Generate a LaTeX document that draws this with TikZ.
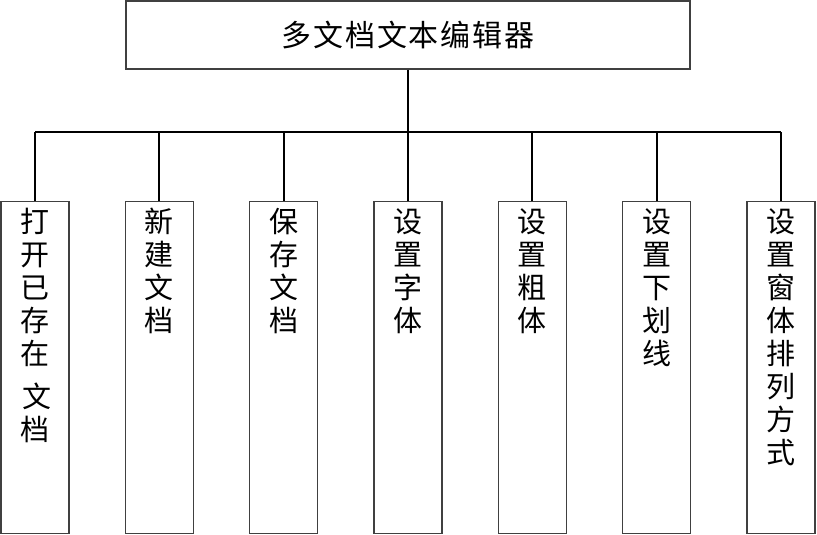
\documentclass[tikz,border=0pt]{standalone}
\usepackage{fontspec}
\setmainfont{Noto Sans CJK SC}
\begin{document}
\begin{tikzpicture}[x=1pt,y=-1pt,
  topbox/.style={draw=black!75,line width=1.2pt,minimum width=564pt,minimum height=68pt,inner sep=0pt},
  childbox/.style={draw=black!75,line width=1.2pt,minimum width=68pt,minimum height=332pt,inner sep=0pt,anchor=north},
  vlabel/.style={anchor=north,inner sep=0pt,align=center,font=\fontsize{29}{33}\selectfont},
  conn/.style={line width=1.8pt},
  trunk/.style={line width=2.6pt}]
\useasboundingbox (0,0) rectangle (817,535);
\node[topbox,font=\fontsize{30}{32}\selectfont] (top) at (408,35) {多\hspace{1.8pt}文\hspace{1.8pt}档\hspace{1.8pt}文\hspace{1.8pt}本\hspace{1.8pt}编\hspace{1.8pt}辑\hspace{1.8pt}器};
\coordinate (bus) at (408,132);
\foreach \i/\txt in {0/{打\\开\\已\\存\\在\\[10pt]\hspace{4pt}文\\档},
                     1/{新\\建\\文\\档},
                     2/{保\\存\\文\\档},
                     3/{设\\置\\字\\体},
                     4/{设\\置\\粗\\体},
                     5/{设\\置\\下\\划\\线},
                     6/{设\\置\\窗\\体\\排\\列\\方\\式}}{
  \pgfmathsetmacro{\cx}{35+\i*124.33}
  \node[childbox] (c\i) at (\cx,200.5) {};
  \node[vlabel] (t\i) at (\cx,208) {\txt};
  \coordinate (b\i) at (\cx,132);
  \draw[conn] (b\i) -- (c\i.north);
}
\draw[conn] (b0) -- (b6);
\draw[trunk] (top.south) -- (bus);
\end{tikzpicture}
\end{document}
